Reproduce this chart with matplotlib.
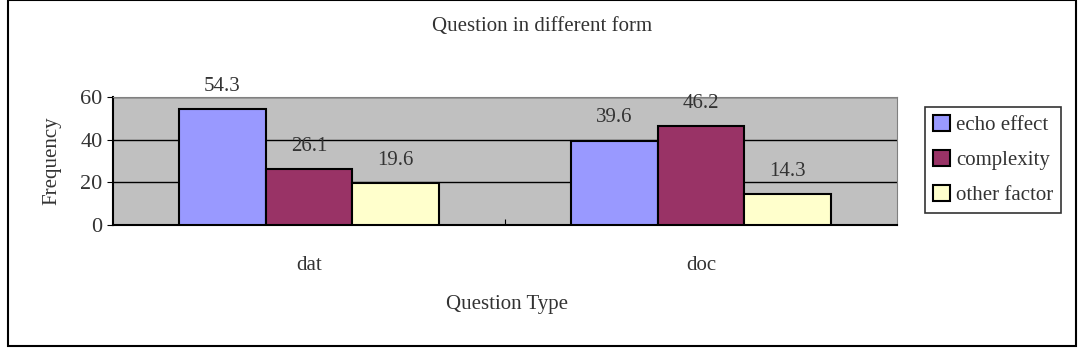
import numpy as np
import matplotlib.pyplot as plt
from matplotlib.patches import Rectangle

# data
categories = ['dat', 'doc']
series = ['echo effect', 'complexity', 'other factor']
echo_effect = [54.3, 39.6]
complexity = [26.1, 46.2]
other_factor = [19.6, 14.3]
colors = ['#9999ff', '#993366', '#ffffcc']

plt.rcParams['font.family'] = ['Liberation Serif', 'DejaVu Serif']
fs = 15

fig = plt.figure(figsize=(10.86, 3.51), dpi=100)
ax = fig.add_axes([113/1086, 126/351, 784/1086, 128/351])

# outer chart border
fig.patches.append(Rectangle((8/1086, 5/351), 1068/1086, 346/351, transform=fig.transFigure,
                             fill=False, edgecolor='black', linewidth=1.5))

x = np.arange(len(categories))
w = 0.221
vals = [echo_effect, complexity, other_factor]
for i, (name, v) in enumerate(zip(series, vals)):
    bars = ax.bar(x + (i - 1) * w, v, w, color=colors[i], edgecolor='black',
                  linewidth=1.5, label=name, zorder=3)
    for b, val in zip(bars, v):
        ax.text(b.get_x() + b.get_width() / 2, val + 10.8, '%.1f' % val,
                ha='center', va='center', fontsize=fs, color='#333333')

ax.set_facecolor('#c0c0c0')
ax.set_xlim(-0.5, 1.5)
ax.set_ylim(0, 60)
ax.set_yticks([0, 20, 40, 60])
ax.yaxis.grid(True, color='black', linewidth=1, zorder=1)
ax.set_axisbelow(True)
ax.set_xticks([0.5])
ax.set_xticklabels([''])
ax.tick_params(axis='x', direction='in', length=4)
ax.tick_params(axis='y', direction='out', length=4, labelsize=fs + 1, labelcolor='#333333')
for c, lbl in zip(x, categories):
    ax.text(c, -18.8, lbl, ha='center', va='center', fontsize=fs, color='#333333',
            transform=ax.transData, clip_on=False)
for s in ['top', 'right']:
    ax.spines[s].set_color('#808080')
for s in ['left', 'bottom']:
    ax.spines[s].set_linewidth(1.5)

ax.set_ylabel('Frequency', fontsize=fs, color='#333333', labelpad=14)
fig.text(507/1086, 1 - 305/351, 'Question Type', ha='center', va='center', fontsize=fs, color='#333333')
fig.text(542/1086, 1 - 27/351, 'Question in different form', ha='center', va='center', fontsize=fs, color='#333333')

leg = fig.legend(loc='center', bbox_to_anchor=(993/1086, 1 - 160/351), fontsize=fs,
                 handlelength=0.8, handleheight=0.8, handletextpad=0.3, borderpad=0.4,
                 labelspacing=0.7, fancybox=False, framealpha=1, edgecolor='#333333')
leg.get_frame().set_linewidth(1.2)
for t in leg.get_texts():
    t.set_color('#333333')

fig.savefig('out.png', dpi=100)
